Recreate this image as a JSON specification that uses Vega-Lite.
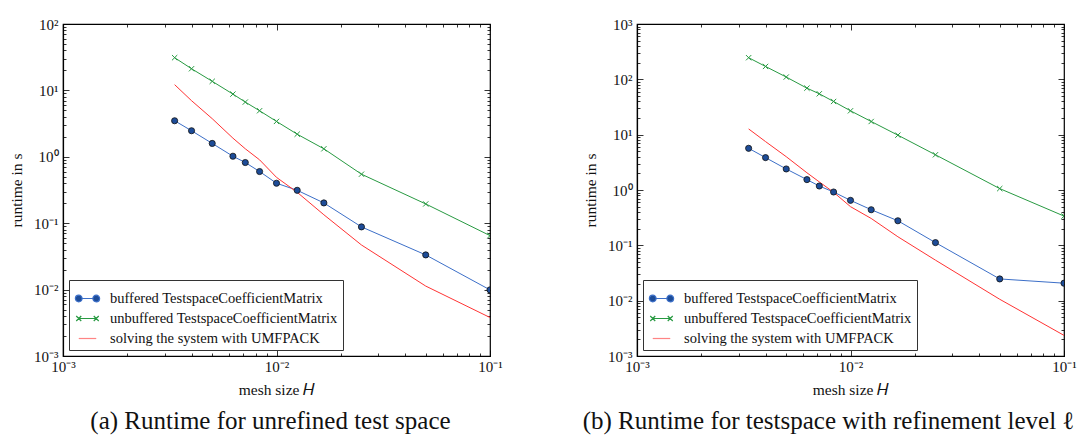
{
  "$schema": "https://vega.github.io/schema/vega-lite/v6.json",
  "padding": {"left": 8, "top": 16, "right": 5, "bottom": 5},
  "background": "white",
  "spacing": 79,
  "datasets": {
    "a": [
      {"H": 0.003333, "series": "buffered TestspaceCoefficientMatrix", "t": 3.49},
      {"H": 0.004, "series": "buffered TestspaceCoefficientMatrix", "t": 2.47},
      {"H": 0.005, "series": "buffered TestspaceCoefficientMatrix", "t": 1.59},
      {"H": 0.00625, "series": "buffered TestspaceCoefficientMatrix", "t": 1.02},
      {"H": 0.007143, "series": "buffered TestspaceCoefficientMatrix", "t": 0.82},
      {"H": 0.008333, "series": "buffered TestspaceCoefficientMatrix", "t": 0.6},
      {"H": 0.01, "series": "buffered TestspaceCoefficientMatrix", "t": 0.4},
      {"H": 0.0125, "series": "buffered TestspaceCoefficientMatrix", "t": 0.313},
      {"H": 0.016667, "series": "buffered TestspaceCoefficientMatrix", "t": 0.202},
      {"H": 0.025, "series": "buffered TestspaceCoefficientMatrix", "t": 0.088},
      {"H": 0.05, "series": "buffered TestspaceCoefficientMatrix", "t": 0.0333},
      {"H": 0.1, "series": "buffered TestspaceCoefficientMatrix", "t": 0.0099},
      {"H": 0.003333, "series": "unbuffered TestspaceCoefficientMatrix", "t": 31.1},
      {"H": 0.004, "series": "unbuffered TestspaceCoefficientMatrix", "t": 21.2},
      {"H": 0.005, "series": "unbuffered TestspaceCoefficientMatrix", "t": 13.7},
      {"H": 0.00625, "series": "unbuffered TestspaceCoefficientMatrix", "t": 8.8},
      {"H": 0.007143, "series": "unbuffered TestspaceCoefficientMatrix", "t": 6.67},
      {"H": 0.008333, "series": "unbuffered TestspaceCoefficientMatrix", "t": 4.94},
      {"H": 0.01, "series": "unbuffered TestspaceCoefficientMatrix", "t": 3.41},
      {"H": 0.0125, "series": "unbuffered TestspaceCoefficientMatrix", "t": 2.19},
      {"H": 0.016667, "series": "unbuffered TestspaceCoefficientMatrix", "t": 1.32},
      {"H": 0.025, "series": "unbuffered TestspaceCoefficientMatrix", "t": 0.547},
      {"H": 0.05, "series": "unbuffered TestspaceCoefficientMatrix", "t": 0.195},
      {"H": 0.1, "series": "unbuffered TestspaceCoefficientMatrix", "t": 0.065},
      {"H": 0.003333, "series": "solving the system with UMFPACK", "t": 12.2},
      {"H": 0.004, "series": "solving the system with UMFPACK", "t": 7.0},
      {"H": 0.005, "series": "solving the system with UMFPACK", "t": 3.75},
      {"H": 0.00625, "series": "solving the system with UMFPACK", "t": 1.91},
      {"H": 0.007143, "series": "solving the system with UMFPACK", "t": 1.32},
      {"H": 0.008333, "series": "solving the system with UMFPACK", "t": 0.9},
      {"H": 0.01, "series": "solving the system with UMFPACK", "t": 0.49},
      {"H": 0.0125, "series": "solving the system with UMFPACK", "t": 0.292},
      {"H": 0.016667, "series": "solving the system with UMFPACK", "t": 0.134},
      {"H": 0.025, "series": "solving the system with UMFPACK", "t": 0.047},
      {"H": 0.05, "series": "solving the system with UMFPACK", "t": 0.0113},
      {"H": 0.1, "series": "solving the system with UMFPACK", "t": 0.0038}
    ],
    "b": [
      {"H": 0.003333, "series": "buffered TestspaceCoefficientMatrix", "t": 5.67},
      {"H": 0.004, "series": "buffered TestspaceCoefficientMatrix", "t": 3.85},
      {"H": 0.005, "series": "buffered TestspaceCoefficientMatrix", "t": 2.4},
      {"H": 0.00625, "series": "buffered TestspaceCoefficientMatrix", "t": 1.54},
      {"H": 0.007143, "series": "buffered TestspaceCoefficientMatrix", "t": 1.18},
      {"H": 0.008333, "series": "buffered TestspaceCoefficientMatrix", "t": 0.92},
      {"H": 0.01, "series": "buffered TestspaceCoefficientMatrix", "t": 0.65},
      {"H": 0.0125, "series": "buffered TestspaceCoefficientMatrix", "t": 0.44},
      {"H": 0.016667, "series": "buffered TestspaceCoefficientMatrix", "t": 0.278},
      {"H": 0.025, "series": "buffered TestspaceCoefficientMatrix", "t": 0.112},
      {"H": 0.05, "series": "buffered TestspaceCoefficientMatrix", "t": 0.0247},
      {"H": 0.1, "series": "buffered TestspaceCoefficientMatrix", "t": 0.0207},
      {"H": 0.003333, "series": "unbuffered TestspaceCoefficientMatrix", "t": 246},
      {"H": 0.004, "series": "unbuffered TestspaceCoefficientMatrix", "t": 171},
      {"H": 0.005, "series": "unbuffered TestspaceCoefficientMatrix", "t": 110},
      {"H": 0.00625, "series": "unbuffered TestspaceCoefficientMatrix", "t": 69.3},
      {"H": 0.007143, "series": "unbuffered TestspaceCoefficientMatrix", "t": 54.8},
      {"H": 0.008333, "series": "unbuffered TestspaceCoefficientMatrix", "t": 39.8},
      {"H": 0.01, "series": "unbuffered TestspaceCoefficientMatrix", "t": 27},
      {"H": 0.0125, "series": "unbuffered TestspaceCoefficientMatrix", "t": 17.3},
      {"H": 0.016667, "series": "unbuffered TestspaceCoefficientMatrix", "t": 9.8},
      {"H": 0.025, "series": "unbuffered TestspaceCoefficientMatrix", "t": 4.33},
      {"H": 0.05, "series": "unbuffered TestspaceCoefficientMatrix", "t": 1.06},
      {"H": 0.1, "series": "unbuffered TestspaceCoefficientMatrix", "t": 0.338},
      {"H": 0.003333, "series": "solving the system with UMFPACK", "t": 12.7},
      {"H": 0.004, "series": "solving the system with UMFPACK", "t": 7.5},
      {"H": 0.005, "series": "solving the system with UMFPACK", "t": 4.0},
      {"H": 0.00625, "series": "solving the system with UMFPACK", "t": 2.05},
      {"H": 0.007143, "series": "solving the system with UMFPACK", "t": 1.4},
      {"H": 0.008333, "series": "solving the system with UMFPACK", "t": 0.91},
      {"H": 0.01, "series": "solving the system with UMFPACK", "t": 0.5},
      {"H": 0.0125, "series": "solving the system with UMFPACK", "t": 0.306},
      {"H": 0.016667, "series": "solving the system with UMFPACK", "t": 0.143},
      {"H": 0.025, "series": "solving the system with UMFPACK", "t": 0.054},
      {"H": 0.05, "series": "solving the system with UMFPACK", "t": 0.0106},
      {"H": 0.1, "series": "solving the system with UMFPACK", "t": 0.00236}
    ]
  },
  "hconcat": [
    {
      "width": 427,
      "height": 332,
      "title": {"text": "(a) Runtime for unrefined test space", "orient": "bottom", "dx": -6},
      "data": {"name": "a"},
      "layer": [
        {
          "mark": {"type": "line", "strokeWidth": 1, "clip": true},
          "encoding": {
            "x": {"field": "H", "type": "quantitative", "scale": {"type": "log", "domain": [0.001, 0.1], "nice": false},
              "axis": {"title": "mesh size 𝐻", "values": [0.001,0.002,0.003,0.004,0.005,0.006,0.007,0.008,0.009,0.01,0.02,0.03,0.04,0.05,0.06,0.07,0.08,0.09,0.1]}},
            "y": {"field": "t", "type": "quantitative", "scale": {"type": "log", "domain": [0.001, 100], "nice": false},
              "axis": {"title": "runtime in s", "values": [0.001,0.002,0.003,0.004,0.005,0.006,0.007,0.008,0.009,0.01,0.02,0.03,0.04,0.05,0.06,0.07,0.08,0.09,0.1,0.2,0.3,0.4,0.5,0.6,0.7,0.8,0.9,1,2,3,4,5,6,7,8,9,10,20,30,40,50,60,70,80,90,100]}},
            "color": {"field": "series", "type": "nominal", "sort": null,
              "scale": {"domain": ["buffered TestspaceCoefficientMatrix", "unbuffered TestspaceCoefficientMatrix", "solving the system with UMFPACK"], "range": ["#3c6fc8", "#289a42", "#ff3333"]},
              "legend": {"encode": {"symbols": {"update": {
                "shape": {"signal": "datum.value == 'unbuffered TestspaceCoefficientMatrix' ? 'M-0.9,-0.2L-0.5,0.2M-0.9,0.2L-0.5,-0.2M0.5,-0.2L0.9,0.2M0.5,0.2L0.9,-0.2M-0.7,0L0.7,0' : datum.value == 'buffered TestspaceCoefficientMatrix' ? 'M-0.43,0L0.43,0M-0.97,0A0.27,0.27 0 1,0 -0.43,0A0.27,0.27 0 1,0 -0.97,0ZM0.43,0A0.27,0.27 0 1,0 0.97,0A0.27,0.27 0 1,0 0.43,0Z' : 'M-0.7,0L0.7,0'"},
                "fill": {"signal": "datum.value == 'buffered TestspaceCoefficientMatrix' ? '#1d4c98' : 'transparent'"},
                "opacity": {"signal": "datum.value == 'solving the system with UMFPACK' ? 0.6 : 1"},
                "strokeWidth": {"value": 1.2}
              }}}}
            }
          }
        },
        {
          "transform": [{"filter": "datum.series == 'buffered TestspaceCoefficientMatrix'"}],
          "mark": {"type": "point", "shape": "circle", "filled": true, "fill": "#1d4c98", "stroke": "#111111", "strokeWidth": 0.8, "size": 38, "opacity": 1, "clip": true},
          "encoding": {
            "x": {"field": "H", "type": "quantitative", "axis": null},
            "y": {"field": "t", "type": "quantitative", "axis": null}
          }
        },
        {
          "transform": [{"filter": "datum.series == 'unbuffered TestspaceCoefficientMatrix'"}],
          "mark": {"type": "point", "shape": "M-1,-1L1,1M-1,1L1,-1", "filled": false, "stroke": "#289a42", "strokeWidth": 1, "size": 28, "opacity": 1, "clip": true},
          "encoding": {
            "x": {"field": "H", "type": "quantitative", "axis": null},
            "y": {"field": "t", "type": "quantitative", "axis": null}
          }
        },
        {
          "mark": {"type": "point", "opacity": 0},
          "encoding": {
            "x": {"field": "H", "type": "quantitative",
              "axis": {"orient": "top", "labels": false, "title": null, "domain": false, "values": [0.001,0.002,0.003,0.004,0.005,0.006,0.007,0.008,0.009,0.01,0.02,0.03,0.04,0.05,0.06,0.07,0.08,0.09,0.1]}},
            "y": {"field": "t", "type": "quantitative",
              "axis": {"orient": "right", "labels": false, "title": null, "domain": false, "values": [0.001,0.002,0.003,0.004,0.005,0.006,0.007,0.008,0.009,0.01,0.02,0.03,0.04,0.05,0.06,0.07,0.08,0.09,0.1,0.2,0.3,0.4,0.5,0.6,0.7,0.8,0.9,1,2,3,4,5,6,7,8,9,10,20,30,40,50,60,70,80,90,100]}}
          }
        }
      ],
      "resolve": {"axis": {"x": "independent", "y": "independent"}}
    },
    {
      "width": 427,
      "height": 332,
      "title": {"text": "(b) Runtime for testspace with refinement level ℓ", "orient": "bottom", "dx": -22},
      "data": {"name": "b"},
      "layer": [
        {
          "mark": {"type": "line", "strokeWidth": 1, "clip": true},
          "encoding": {
            "x": {"field": "H", "type": "quantitative", "scale": {"type": "log", "domain": [0.001, 0.1], "nice": false},
              "axis": {"title": "mesh size 𝐻", "values": [0.001,0.002,0.003,0.004,0.005,0.006,0.007,0.008,0.009,0.01,0.02,0.03,0.04,0.05,0.06,0.07,0.08,0.09,0.1]}},
            "y": {"field": "t", "type": "quantitative", "scale": {"type": "log", "domain": [0.001, 1000], "nice": false},
              "axis": {"title": "runtime in s", "values": [0.001,0.002,0.003,0.004,0.005,0.006,0.007,0.008,0.009,0.01,0.02,0.03,0.04,0.05,0.06,0.07,0.08,0.09,0.1,0.2,0.3,0.4,0.5,0.6,0.7,0.8,0.9,1,2,3,4,5,6,7,8,9,10,20,30,40,50,60,70,80,90,100,200,300,400,500,600,700,800,900,1000]}},
            "color": {"field": "series", "type": "nominal", "sort": null,
              "scale": {"domain": ["buffered TestspaceCoefficientMatrix", "unbuffered TestspaceCoefficientMatrix", "solving the system with UMFPACK"], "range": ["#3c6fc8", "#289a42", "#ff3333"]},
              "legend": {"encode": {"symbols": {"update": {
                "shape": {"signal": "datum.value == 'unbuffered TestspaceCoefficientMatrix' ? 'M-0.9,-0.2L-0.5,0.2M-0.9,0.2L-0.5,-0.2M0.5,-0.2L0.9,0.2M0.5,0.2L0.9,-0.2M-0.7,0L0.7,0' : datum.value == 'buffered TestspaceCoefficientMatrix' ? 'M-0.43,0L0.43,0M-0.97,0A0.27,0.27 0 1,0 -0.43,0A0.27,0.27 0 1,0 -0.97,0ZM0.43,0A0.27,0.27 0 1,0 0.97,0A0.27,0.27 0 1,0 0.43,0Z' : 'M-0.7,0L0.7,0'"},
                "fill": {"signal": "datum.value == 'buffered TestspaceCoefficientMatrix' ? '#1d4c98' : 'transparent'"},
                "opacity": {"signal": "datum.value == 'solving the system with UMFPACK' ? 0.6 : 1"},
                "strokeWidth": {"value": 1.2}
              }}}}
            }
          }
        },
        {
          "transform": [{"filter": "datum.series == 'buffered TestspaceCoefficientMatrix'"}],
          "mark": {"type": "point", "shape": "circle", "filled": true, "fill": "#1d4c98", "stroke": "#111111", "strokeWidth": 0.8, "size": 38, "opacity": 1, "clip": true},
          "encoding": {
            "x": {"field": "H", "type": "quantitative", "axis": null},
            "y": {"field": "t", "type": "quantitative", "axis": null}
          }
        },
        {
          "transform": [{"filter": "datum.series == 'unbuffered TestspaceCoefficientMatrix'"}],
          "mark": {"type": "point", "shape": "M-1,-1L1,1M-1,1L1,-1", "filled": false, "stroke": "#289a42", "strokeWidth": 1, "size": 28, "opacity": 1, "clip": true},
          "encoding": {
            "x": {"field": "H", "type": "quantitative", "axis": null},
            "y": {"field": "t", "type": "quantitative", "axis": null}
          }
        },
        {
          "mark": {"type": "point", "opacity": 0},
          "encoding": {
            "x": {"field": "H", "type": "quantitative",
              "axis": {"orient": "top", "labels": false, "title": null, "domain": false, "values": [0.001,0.002,0.003,0.004,0.005,0.006,0.007,0.008,0.009,0.01,0.02,0.03,0.04,0.05,0.06,0.07,0.08,0.09,0.1]}},
            "y": {"field": "t", "type": "quantitative",
              "axis": {"orient": "right", "labels": false, "title": null, "domain": false, "values": [0.001,0.002,0.003,0.004,0.005,0.006,0.007,0.008,0.009,0.01,0.02,0.03,0.04,0.05,0.06,0.07,0.08,0.09,0.1,0.2,0.3,0.4,0.5,0.6,0.7,0.8,0.9,1,2,3,4,5,6,7,8,9,10,20,30,40,50,60,70,80,90,100,200,300,400,500,600,700,800,900,1000]}}
          }
        }
      ],
      "resolve": {"axis": {"x": "independent", "y": "independent"}}
    }
  ],
  "resolve": {"scale": {"color": "independent"}, "legend": {"color": "independent"}},
  "config": {
    "view": {"stroke": "#000000", "strokeWidth": 1.2},
    "font": "Liberation Serif",
    "title": {"font": "Liberation Serif", "fontSize": 25, "fontWeight": "normal", "color": "#111111", "offset": 11},
    "axis": {
      "grid": false,
      "domainColor": "#000000",
      "domainWidth": 1.2,
      "tickColor": "#000000",
      "tickWidth": 0.8,
      "tickSize": {"condition": {"test": "abs(log(datum.value)/LN10 - round(log(datum.value)/LN10)) < 0.01", "value": -6}, "value": -3},
      "labelExpr": "abs(log(datum.value)/LN10 - round(log(datum.value)/LN10)) < 0.01 ? '10' + replace(replace(replace(replace(replace('' + round(log(datum.value)/LN10), '-', '⁻'), '0', '⁰'), '1', '¹'), '2', '²'), '3', '³') : ''",
      "labelFont": "Liberation Serif",
      "labelFontSize": 15,
      "labelColor": "#111111",
      "labelOverlap": false,
      "labelFlush": false,
      "labelBound": false,
      "titleFont": "Liberation Serif",
      "titleFontSize": 15.5,
      "titleFontWeight": "normal",
      "titleColor": "#111111"
    },
    "axisX": {"titlePadding": 5, "labelPadding": 9},
    "axisY": {"titlePadding": 9, "labelPadding": 11},
    "legend": {
      "orient": "bottom-left",
      "offset": 6,
      "title": null,
      "labelFont": "Liberation Serif",
      "labelFontSize": 14.5,
      "labelColor": "#111111",
      "labelLimit": 400,
      "strokeColor": "#333333",
      "fillColor": "#ffffff",
      "padding": 5,
      "rowPadding": -6,
      "symbolSize": 625,
      "labelOffset": 9,
      "cornerRadius": 0
    }
  }
}
